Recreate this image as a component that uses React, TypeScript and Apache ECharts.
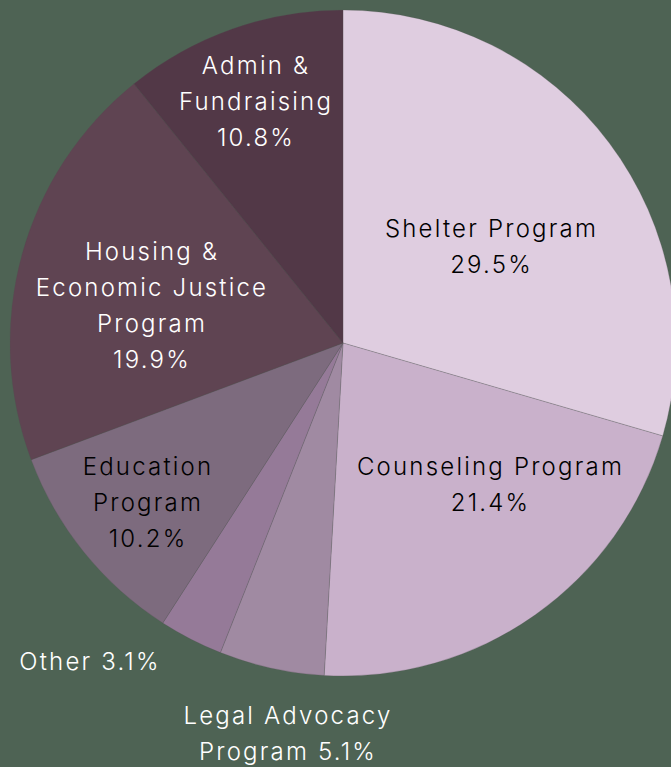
import React, { useEffect, useRef } from "react";
import * as echarts from "echarts";

const categories = [
  "Shelter Program",
  "Counseling Program",
  "Legal Advocacy Program",
  "Other",
  "Education Program",
  "Housing & Economic Justice Program",
  "Admin & Fundraising",
];
const shares = [29.5, 21.4, 5.1, 3.1, 10.2, 19.9, 10.8];
const labelLines = [
  ["Shelter Program", "29.5%"],
  ["Counseling Program", "21.4%"],
  ["Legal Advocacy", "Program 5.1%"],
  ["Other 3.1%"],
  ["Education", "Program", "10.2%"],
  ["Housing &", "Economic Justice", "Program", "19.9%"],
  ["Admin &", "Fundraising", "10.8%"],
];

const W = 671;
const H = 767;
const CX = 343;
const CY = 343;
const R = 333;
const sliceColors = ["#dfcde0", "#c9b1cb", "#a08aa2", "#957a98", "#7d6b7e", "#5f4452", "#523847"];
const textColors = ["#000000", "#000000", "#ffffff", "#ffffff", "#000000", "#ffffff", "#ffffff"];
// label centre offsets from pie centre (px)
const labelPos = [
  [148.5, -97],
  [147.5, 141],
  [-55, 390.5],
  [-253, 318],
  [-195, 159],
  [-191, -38],
  [-87, -241.5],
];

export default function App() {
  const ref = useRef<HTMLDivElement>(null);
  useEffect(() => {
    if (!ref.current) return;
    const chart = echarts.init(ref.current, null, { renderer: "svg" });
    chart.setOption({
      animation: false,
      backgroundColor: "#4e6354",
      series: [
        {
          type: "pie",
          center: [CX, CY],
          radius: [0, R],
          startAngle: 90,
          clockwise: true,
          avoidLabelOverlap: false,
          itemStyle: { borderColor: "rgba(80,80,80,0.45)", borderWidth: 0.5 },
          emphasis: { disabled: true },
          labelLine: { show: false },
          label: {
            show: true,
            position: "inside",
            fontFamily: "Inter",
            fontSize: 24,
            fontWeight: 300,
            lineHeight: 36,
            align: "center",
            verticalAlign: "middle",
          },
          labelLayout: (p: any) => ({
            x: CX + labelPos[p.dataIndex][0],
            y: CY + labelPos[p.dataIndex][1],
          }),
          data: categories.map((name, i) => ({
            name,
            value: shares[i],
            itemStyle: { color: sliceColors[i] },
            label: {
              color: textColors[i],
              formatter: labelLines[i].join("\n"),
            },
          })),
        },
      ],
    });
    return () => chart.dispose();
  }, []);
  return (
    <div style={{ position: "fixed", left: 0, top: 0, width: W, height: H, background: "#4e6354", letterSpacing: "2.2px" }}>
      <div ref={ref} style={{ width: W, height: H }} />
    </div>
  );
}
